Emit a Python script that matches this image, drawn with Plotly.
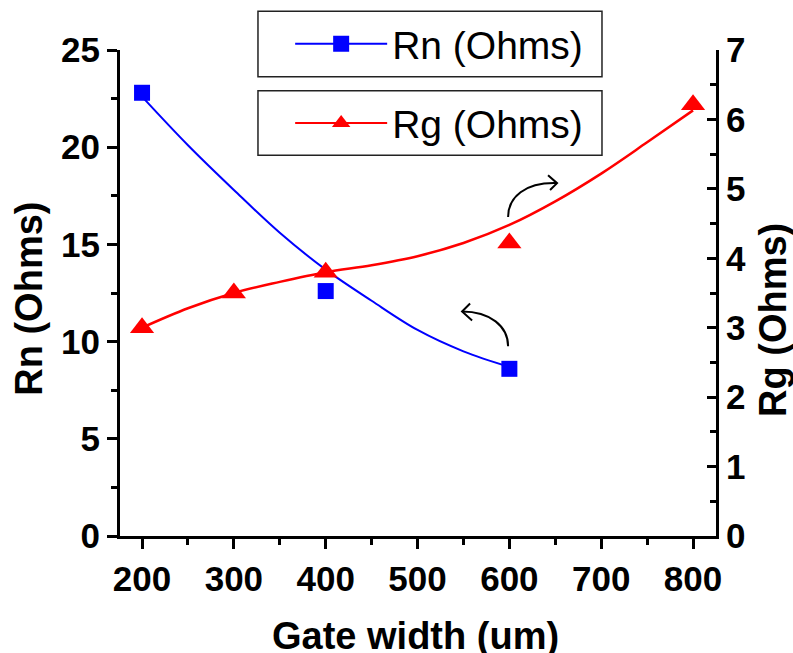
import plotly.graph_objects as go

# ---- data ----
gate_rn = [200, 400, 600]
rn_vals = [22.8, 12.6, 8.6]
gate_rg = [200, 300, 400, 600, 800]
rg_vals = [3.0, 3.5, 3.8, 4.22, 6.21]

# fitted (smooth) curves
fit_rn_x = [200, 250, 300, 350, 400, 450, 500, 550, 600]
fit_rn_y = [22.6, 20.1, 17.8, 15.6, 13.7, 12.1, 10.6, 9.5, 8.7]
fit_rg_x = [200, 250, 300, 350, 400, 450, 500, 550, 600, 650, 700, 750, 800]
fit_rg_y = [3.0, 3.28, 3.5, 3.66, 3.8, 3.9, 4.03, 4.22, 4.48, 4.82, 5.22, 5.67, 6.13]

x_ticks = [200, 300, 400, 500, 600, 700, 800]

BLUE = "#0000ff"
RED = "#ff0000"
FONT = "Liberation Sans, Arial, sans-serif"

fig = go.Figure()

# fit curves
fig.add_trace(go.Scatter(x=fit_rn_x, y=fit_rn_y, mode="lines", line=dict(color=BLUE, width=2, shape="spline"),
                         showlegend=False, hoverinfo="skip"))
fig.add_trace(go.Scatter(x=fit_rg_x, y=fit_rg_y, mode="lines", yaxis="y2",
                         line=dict(color=RED, width=2.5, shape="spline"), showlegend=False, hoverinfo="skip"))
# data points
fig.add_trace(go.Scatter(x=gate_rn, y=rn_vals, mode="markers", marker=dict(symbol="square", size=16, color=BLUE),
                         showlegend=False))
fig.add_trace(go.Scatter(x=gate_rg, y=rg_vals, mode="markers", yaxis="y2",
                         marker=dict(symbol="triangle-up", size=21, color=RED), showlegend=False))

# legend entries (line + marker samples)
fig.add_trace(go.Scatter(x=[None], y=[None], mode="lines+markers", name="Rn (Ohms)",
                         line=dict(color=BLUE, width=2), marker=dict(symbol="square", size=18, color=BLUE),
                         legend="legend"))
fig.add_trace(go.Scatter(x=[None], y=[None], mode="lines+markers", name="Rg (Ohms)", yaxis="y2",
                         line=dict(color=RED, width=2), marker=dict(symbol="triangle-up", size=22, color=RED),
                         legend="legend2"))

axis_common = dict(
    showline=True, linecolor="black", linewidth=3, showgrid=False, zeroline=False,
    ticks="outside", ticklen=10, tickwidth=3, tickcolor="black",
    tickfont=dict(family=FONT, size=35, color="black", weight="bold"),
)

leg_common = dict(xanchor="left", yanchor="middle", borderwidth=0, bgcolor="rgba(0,0,0,0)",
                  font=dict(family=FONT, size=39, color="black"), itemwidth=92)

fig.update_layout(
    width=793, height=653,
    margin=dict(l=120, r=77, t=47, b=117),
    paper_bgcolor="white", plot_bgcolor="white",
    xaxis=dict(range=[176, 825], tickvals=x_ticks,
               minor=dict(dtick=50, ticks="outside", ticklen=6, tickwidth=3, tickcolor="black", showgrid=False),
               **axis_common),
    yaxis=dict(range=[0, 25], dtick=5,
               minor=dict(dtick=2.5, ticks="outside", ticklen=6, tickwidth=3, tickcolor="black", showgrid=False),
               **axis_common),
    yaxis2=dict(range=[0, 7], dtick=1, overlaying="y", side="right",
                showline=True, linecolor="black", linewidth=3, showgrid=False, zeroline=False,
                ticks="inside", ticklen=9, tickwidth=3, tickcolor="black",
                tickfont=dict(family=FONT, size=35, color="black", weight="bold"),
                minor=dict(dtick=0.5, ticks="inside", ticklen=6, tickwidth=3, tickcolor="black", showgrid=False)),
    legend=dict(x=0.2855, y=1.0123, **leg_common),
    legend2=dict(x=0.2855, y=0.8497, **leg_common),
    showlegend=True,
)

# legend frames
for y0, y1 in [(0.9448, 1.0798), (0.7832, 0.9162)]:
    fig.add_shape(type="rect", xref="paper", yref="paper", x0=0.2315, x1=0.8087, y0=y0, y1=y1,
                  line=dict(color="#222", width=1.5), fillcolor="rgba(0,0,0,0)")

title_font = dict(family=FONT, size=38, color="black", weight="bold")
fig.add_annotation(text="Rn (Ohms)", xref="paper", yref="paper", x=-0.152, y=0.489, textangle=-90,
                   showarrow=False, font=title_font, xanchor="center", yanchor="middle")
fig.add_annotation(text="Rg (Ohms)", xref="paper", yref="paper", x=1.096, y=0.445, textangle=-90,
                   showarrow=False, font=title_font, xanchor="center", yanchor="middle")
fig.add_annotation(text="Gate width (um)", xref="paper", yref="paper", x=0.496, y=-0.1575,
                   showarrow=False, font=title_font, xanchor="center", yanchor="top")

# curved arrows (annotation decorations)
arrow_line = dict(color="black", width=2)
fig.add_shape(type="path", xref="x", yref="y",
              path="M598.6,16.41 C598.6,17.43 617.1,18.20 651.9,18.15", line=arrow_line)
fig.add_shape(type="path", xref="x", yref="y",
              path="M642.1,18.56 L651.9,18.15 L644.3,17.80", line=arrow_line)
fig.add_shape(type="path", xref="x", yref="y",
              path="M598.6,9.76 C598.6,10.79 579.0,11.55 548.5,11.55", line=arrow_line)
fig.add_shape(type="path", xref="x", yref="y",
              path="M557.2,11.96 L548.5,11.55 L559.4,11.09", line=arrow_line)

fig.write_html("out.html")
